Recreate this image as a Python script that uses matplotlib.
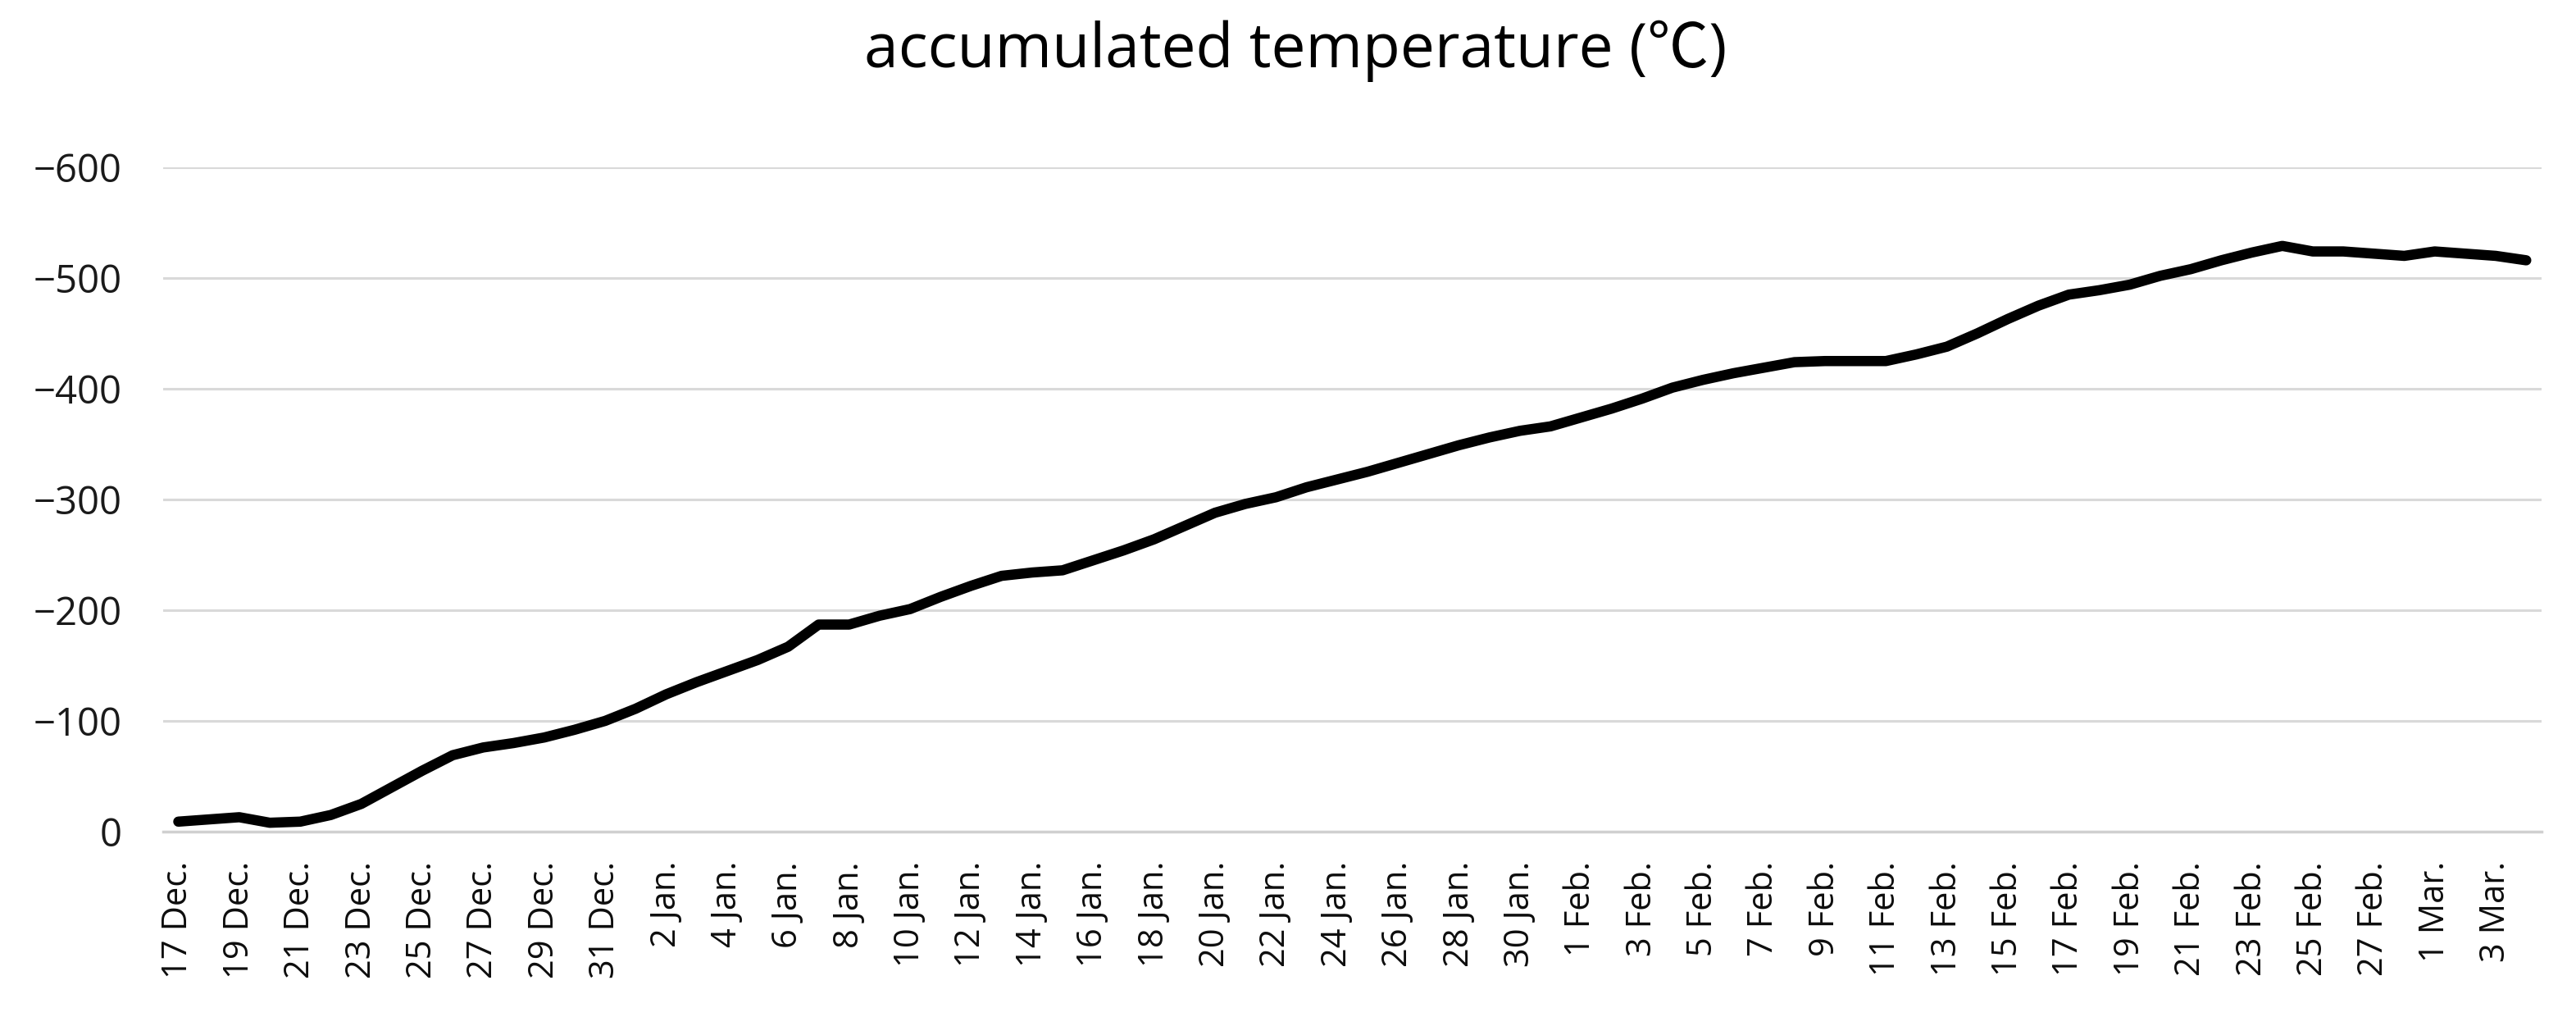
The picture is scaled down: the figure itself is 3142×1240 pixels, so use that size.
import numpy as np
import matplotlib
matplotlib.use('Agg')
import matplotlib.pyplot as plt
from matplotlib.ticker import FuncFormatter

plt.rcParams['font.family'] = ['Open Sans', 'Noto Sans CJK JP', 'DejaVu Sans']

# Data: one value per day, 17 Dec -> 4 Mar
dates = (
    [f'{d} Dec.' for d in range(17, 32)]
    + [f'{d} Jan.' for d in range(1, 32)]
    + [f'{d} Feb.' for d in range(1, 29)]
    + [f'{d} Mar.' for d in range(1, 5)]
)
acc_temp = [
    -9, -11, -13, -8, -9, -15, -25, -40, -55, -69,
    -76, -80, -85, -92, -100, -111, -124, -135, -145, -155,
    -167, -187, -187, -195, -201, -212, -222, -231, -234, -236,
    -245, -254, -264, -276, -288, -296, -302, -311, -318, -325,
    -333, -341, -349, -356, -362, -366, -374, -382, -391, -401,
    -408, -414, -419, -424, -425, -425, -425, -431, -438, -450,
    -463, -475, -485, -489, -494, -502, -508, -516, -523, -529,
    -524, -524, -522, -520, -524, -522, -520, -516,
]
y_ticks = [0, -100, -200, -300, -400, -500, -600]

x = np.arange(len(acc_temp))

fig = plt.figure(figsize=(31.42, 12.4), dpi=100)
ax = fig.add_axes([0.0633, 0.1823, 0.9233, 0.6532])

ax.plot(x, acc_temp, color='black', linewidth=9, solid_joinstyle='round', solid_capstyle='round', zorder=3)

ax.set_xlim(-0.5, len(acc_temp) - 0.5)
ax.set_ylim(0, -600)
ax.set_yticks(y_ticks)
ax.yaxis.set_major_formatter(FuncFormatter(lambda v, p: f'{int(v)}'.replace('-', '\u2212')))
ax.grid(axis='y', color='#d9d9d9', linewidth=2.2)
ax.set_axisbelow(True)

ax.set_xticks(x[::2])
ax.set_xticklabels(dates[::2], rotation=90, va='top', ha='center')

for s in ['top', 'right', 'left']:
    ax.spines[s].set_visible(False)
ax.spines['bottom'].set_color('#d0d0d0')
ax.spines['bottom'].set_linewidth(2.5)

ax.tick_params(axis='y', length=0, pad=36, labelsize=34, colors='#1a1a1a')
ax.tick_params(axis='x', length=0, pad=26, labelsize=30, colors='#0d0d0d')

fig.suptitle('accumulated temperature (\u2103)', fontsize=54, y=0.98, x=0.503)

fig.savefig('out.png', dpi=100, facecolor='white')
